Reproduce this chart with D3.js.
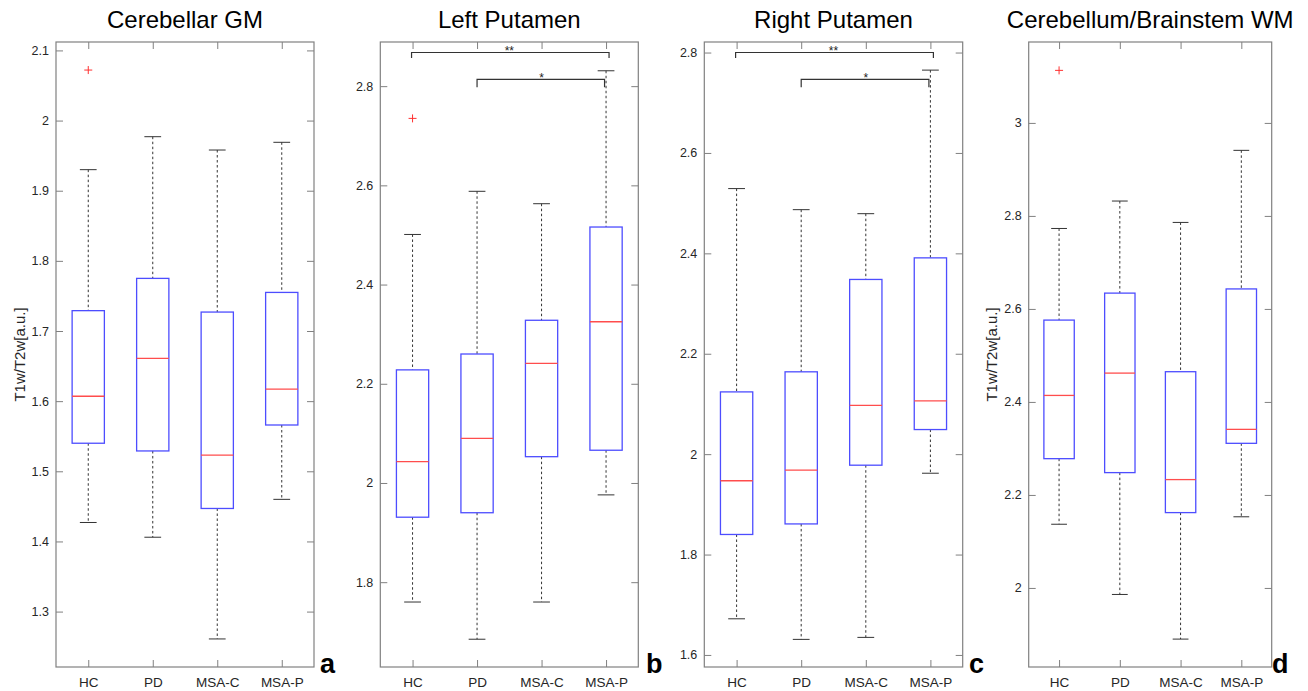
<!DOCTYPE html>
<html>
<head>
<meta charset="utf-8">
<title>T1w/T2w boxplots</title>
<script src="https://d3js.org/d3.v7.min.js"></script>
<style>
  body { margin: 0; background: white; }
  svg { display: block; font-family: "Liberation Sans", Arial, sans-serif; }
</style>
</head>
<body>
<div id="chart"></div>
<script>
// groups on the x axis
var groups = ["HC", "PD", "MSA-C", "MSA-P"];
var titles = ["Cerebellar GM", "Left Putamen", "Right Putamen", "Cerebellum/Brainstem WM"];
var letters = ["a", "b", "c", "d"];

// five numbers per group: lower whisker, q1, median, q3, upper whisker
var cerebellarGM = [
  [1.427, 1.540, 1.607, 1.729, 1.930],
  [1.406, 1.529, 1.661, 1.775, 1.977],
  [1.261, 1.447, 1.523, 1.727, 1.958],
  [1.460, 1.566, 1.617, 1.755, 1.969]
];
var leftPutamen = [
  [1.760, 1.931, 2.043, 2.228, 2.501],
  [1.685, 1.940, 2.090, 2.260, 2.588],
  [1.760, 2.053, 2.241, 2.328, 2.563],
  [1.976, 2.066, 2.325, 2.516, 2.831]
];
var rightPutamen = [
  [1.672, 1.840, 1.947, 2.124, 2.529],
  [1.631, 1.861, 1.968, 2.164, 2.487],
  [1.635, 1.978, 2.097, 2.348, 2.479],
  [1.962, 2.049, 2.106, 2.391, 2.765]
];
var cerebWM = [
  [2.137, 2.278, 2.414, 2.576, 2.773],
  [1.986, 2.248, 2.462, 2.634, 2.832],
  [1.890, 2.162, 2.233, 2.465, 2.786],
  [2.153, 2.311, 2.341, 2.643, 2.941]
];

// outliers: [group index, value]
var cerebellarGMOut = [[0, 2.072]];
var leftPutamenOut = [[0, 2.735]];
var rightPutamenOut = [];
var cerebWMOut = [[0, 3.113]];

// y tick labels and limits
var ticksA = [1.3, 1.4, 1.5, 1.6, 1.7, 1.8, 1.9, 2.0, 2.1];
var ticksB = [1.8, 2.0, 2.2, 2.4, 2.6, 2.8];
var ticksC = [1.6, 1.8, 2.0, 2.2, 2.4, 2.6, 2.8];
var ticksD = [2.0, 2.2, 2.4, 2.6, 2.8, 3.0];
var limA = [1.221, 2.112];
var limB = [1.629, 2.889];
var limC = [1.576, 2.821];
var limD = [1.830, 3.174];

// significance brackets: [from group, to group, label]
var sigB = [[0, 3, "**"], [1, 3, "*"]];
var sigC = [[0, 3, "**"], [1, 3, "*"]];

var panels = [
  {stats: cerebellarGM, out: cerebellarGMOut, ticks: ticksA, lim: limA, sig: []},
  {stats: leftPutamen, out: leftPutamenOut, ticks: ticksB, lim: limB, sig: sigB},
  {stats: rightPutamen, out: rightPutamenOut, ticks: ticksC, lim: limC, sig: sigC},
  {stats: cerebWM, out: cerebWMOut, ticks: ticksD, lim: limD, sig: []}
];

var width = 1308, height = 691;
var top_ = 42, bottom = 667;
var lefts = [56, 380.3, 704.3, 1028.7];
var rights = [314, 638.3, 962.7, 1271.7];
var letterX = [320, 646, 969, 1272];

var svg = d3.select("#chart").append("svg")
  .attr("width", width).attr("height", height);

var fmt = function(v) { return String(+v.toFixed(2)); };
var axisGrey = "#808080";

panels.forEach(function(p, k) {
  var x = d3.scaleLinear().domain([0.5, 4.5]).range([lefts[k], rights[k]]);
  var y = d3.scaleLinear().domain(p.lim).range([bottom, top_]);
  var g = svg.append("g");

  // title
  g.append("text")
    .attr("x", (lefts[k] + rights[k]) / 2).attr("y", 28)
    .attr("text-anchor", "middle")
    .attr("font-size", 24).attr("fill", "#000")
    .text(titles[k]);

  // axes, ticks pointing inward
  var left = g.append("g").attr("transform", "translate(" + lefts[k] + ",0)")
    .call(d3.axisLeft(y).tickValues(p.ticks).tickSizeInner(-7).tickSizeOuter(0).tickPadding(7).tickFormat(fmt));
  var right = g.append("g").attr("transform", "translate(" + rights[k] + ",0)")
    .call(d3.axisRight(y).tickValues(p.ticks).tickSizeInner(-7).tickSizeOuter(0).tickFormat(""));
  var bot = g.append("g").attr("transform", "translate(0," + bottom + ")")
    .call(d3.axisBottom(x).tickValues([1, 2, 3, 4]).tickSizeInner(-7).tickSizeOuter(0).tickPadding(10)
      .tickFormat(function(d) { return groups[d - 1]; }));
  var topAx = g.append("g").attr("transform", "translate(0," + top_ + ")")
    .call(d3.axisTop(x).tickValues([1, 2, 3, 4]).tickSizeInner(-7).tickSizeOuter(0).tickFormat(""));

  [left, right, bot, topAx].forEach(function(a) {
    a.select(".domain").remove();
    a.selectAll(".tick line").attr("stroke", axisGrey);
    a.selectAll(".tick text").attr("fill", "#262626").attr("font-family", null);
  });
  left.selectAll(".tick text").attr("font-size", 12.5);
  bot.selectAll(".tick text").attr("font-size", 13.5);

  g.append("rect")
    .attr("x", lefts[k]).attr("y", top_)
    .attr("width", rights[k] - lefts[k]).attr("height", bottom - top_)
    .attr("fill", "none").attr("stroke", axisGrey).attr("stroke-width", 1.2);

  // y label on the outer panels
  if (k === 0 || k === 3) {
    var lx = lefts[k] - 31.5, ly = (top_ + bottom) / 2;
    g.append("text")
      .attr("transform", "translate(" + lx + "," + ly + ") rotate(-90)")
      .attr("text-anchor", "middle").attr("font-size", 15).attr("fill", "#262626")
      .text("T1w/T2w[a.u.]");
  }

  var bw = x(1.25) - x(0.75);
  var cw = x(1.13) - x(0.87);

  var box = g.selectAll(".bx").data(p.stats).enter().append("g").attr("class", "bx");
  // whiskers
  box.append("line")
    .attr("x1", function(d, i) { return x(i + 1); }).attr("x2", function(d, i) { return x(i + 1); })
    .attr("y1", function(d) { return y(d[4]); }).attr("y2", function(d) { return y(d[3]); })
    .attr("stroke", "#333").attr("stroke-dasharray", "2.5,2.5");
  box.append("line")
    .attr("x1", function(d, i) { return x(i + 1); }).attr("x2", function(d, i) { return x(i + 1); })
    .attr("y1", function(d) { return y(d[1]); }).attr("y2", function(d) { return y(d[0]); })
    .attr("stroke", "#333").attr("stroke-dasharray", "2.5,2.5");
  // caps
  [0, 4].forEach(function(j) {
    box.append("line")
      .attr("x1", function(d, i) { return x(i + 1) - cw / 2; })
      .attr("x2", function(d, i) { return x(i + 1) + cw / 2; })
      .attr("y1", function(d) { return y(d[j]); }).attr("y2", function(d) { return y(d[j]); })
      .attr("stroke", "#333").attr("stroke-width", 1);
  });
  // box
  box.append("rect")
    .attr("x", function(d, i) { return x(i + 1) - bw / 2; })
    .attr("y", function(d) { return y(d[3]); })
    .attr("width", bw)
    .attr("height", function(d) { return y(d[1]) - y(d[3]); })
    .attr("fill", "none").attr("stroke", "#4d4dff").attr("stroke-width", 1.3);
  // median
  box.append("line")
    .attr("x1", function(d, i) { return x(i + 1) - bw / 2; })
    .attr("x2", function(d, i) { return x(i + 1) + bw / 2; })
    .attr("y1", function(d) { return y(d[2]); }).attr("y2", function(d) { return y(d[2]); })
    .attr("stroke", "#ff4d4d").attr("stroke-width", 1.3);

  // outliers as red plus marks
  var o = g.selectAll(".out").data(p.out).enter().append("g").attr("class", "out")
    .attr("transform", function(d) { return "translate(" + x(d[0] + 1) + "," + y(d[1]) + ")"; });
  o.append("path").attr("d", "M-4,0H4M0,-4V4").attr("stroke", "#ff3030").attr("stroke-width", 1);

  // significance brackets
  p.sig.forEach(function(s, j) {
    var ly = top_ + (j === 0 ? 10.5 : 37.3);
    var drop = j === 0 ? 5.5 : 8;
    var x1 = x(s[0] + 1) + (j === 0 ? -1 : 0);
    var x2 = x(s[1] + 1) + (j === 0 ? 3 : -1.5);
    g.append("path")
      .attr("d", "M" + x1 + "," + (ly + drop) + "V" + ly + "H" + x2 + "V" + (ly + drop))
      .attr("fill", "none").attr("stroke", "#333").attr("stroke-width", 1.2);
    g.append("text")
      .attr("x", (x(s[0] + 1) + x(s[1] + 1)) / 2).attr("y", ly + 2.5)
      .attr("text-anchor", "middle").attr("font-size", 12).attr("fill", "#222")
      .text(s[2]);
  });

  // panel letter
  g.append("text")
    .attr("x", letterX[k]).attr("y", 673)
    .attr("font-size", 27).attr("font-weight", "bold").attr("fill", "#000")
    .text(letters[k]);
});
</script>
</body>
</html>
